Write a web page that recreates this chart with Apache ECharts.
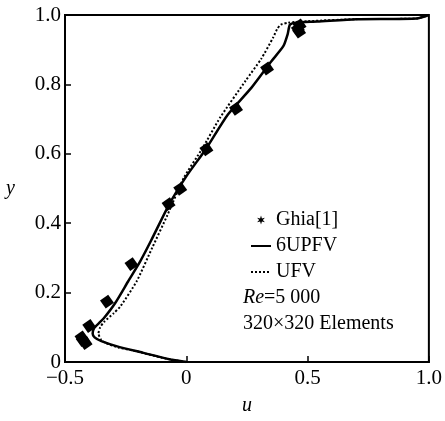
<!DOCTYPE html>
<html>
<head>
<meta charset="utf-8">
<title>u profile Re=5000</title>
<script src="https://cdn.jsdelivr.net/npm/echarts@6/dist/echarts.min.js"></script>
<style>
  html, body { margin: 0; padding: 0; background: #fff; }
  #chart { width: 445px; height: 421px; }
</style>
</head>
<body>
<div id="chart"></div>
<script>
// Ghia[1] reference points (u, y)
var ghiaU = [0.467, 0.460, 0.465, 0.333, 0.205, 0.083, -0.025, -0.073, -0.226, -0.327, -0.400, -0.432, -0.427, -0.415];
var ghiaY = [0.970, 0.960, 0.952, 0.846, 0.730, 0.613, 0.499, 0.455, 0.282, 0.174, 0.104, 0.071, 0.063, 0.055];

// 6UPFV (solid)
var upfvU = [0, -0.07, -0.18, -0.285, -0.35, -0.378, -0.386, -0.380, -0.360, -0.340, -0.293, -0.240, -0.190, -0.145, -0.070, 0.0, 0.081, 0.170, 0.268, 0.350, 0.400, 0.418, 0.427, 0.450, 0.540, 0.700, 0.950, 1.0];
var upfvY = [0, 0.008, 0.027, 0.045, 0.060, 0.071, 0.082, 0.098, 0.112, 0.126, 0.170, 0.232, 0.290, 0.350, 0.455, 0.535, 0.614, 0.712, 0.790, 0.866, 0.910, 0.945, 0.972, 0.978, 0.981, 0.988, 0.990, 1.0];

// UFV (dotted)
var ufvU = [0, -0.10, -0.20, -0.28, -0.33, -0.352, -0.362, -0.355, -0.340, -0.300, -0.272, -0.205, -0.140, -0.080, -0.010, 0.065, 0.140, 0.244, 0.309, 0.358, 0.375, 0.390, 0.420, 0.500, 0.700, 0.950, 1.0];
var ufvY = [0, 0.012, 0.030, 0.042, 0.054, 0.065, 0.082, 0.100, 0.115, 0.140, 0.160, 0.232, 0.330, 0.420, 0.531, 0.614, 0.705, 0.810, 0.874, 0.935, 0.960, 0.972, 0.978, 0.982, 0.988, 0.990, 1.0];

var xTicks = [-0.5, 0, 0.5, 1.0];
var yTicks = [0, 0.2, 0.4, 0.6, 0.8, 1.0];

function pairs(xs, ys) {
  var out = [];
  for (var i = 0; i < xs.length; i++) {
    out.push([xs[i], ys[i]]);
  }
  return out;
}

var FONT = "Liberation Serif";
// six-pointed asterisk for the legend
var ASTERISK = "path://M0,-6L1.25,-2.165L5.196,-3L2.5,0L5.196,3L1.25,2.165L0,6" +
  "L-1.25,2.165L-5.196,3L-2.5,0L-5.196,-3L-1.25,-2.165Z";

var myChart = echarts.init(document.getElementById("chart"));
var option = {
  backgroundColor: "#fff",
  animation: false,
  textStyle: { fontFamily: FONT, color: "#000" },
  grid: {
    left: 65,
    right: 12,
    top: 15,
    bottom: 48,
    show: true,
    borderColor: "#000",
    borderWidth: 2
  },
  xAxis: {
    type: "value",
    min: -0.5,
    max: 1.0,
    interval: 0.5,
    name: "u",
    nameLocation: "middle",
    nameGap: 34,
    nameTextStyle: { fontFamily: FONT, fontStyle: "italic", fontSize: 20, color: "#000" },
    splitLine: { show: false },
    axisLine: { onZero: false, lineStyle: { color: "#000", width: 2 } },
    axisTick: { inside: true, length: 6, lineStyle: { color: "#000", width: 1.5 } },
    axisLabel: {
      fontFamily: FONT,
      fontSize: 21,
      color: "#000",
      margin: 6,
      formatter: function(v) {
        if (xTicks.indexOf(v) === -1) return "";
        if (v === 0) return "0";
        return (v < 0 ? "\u2212" : "") + Math.abs(v).toFixed(1);
      }
    }
  },
  yAxis: {
    type: "value",
    min: 0,
    max: 1.0,
    interval: 0.2,
    name: "y",
    nameLocation: "middle",
    nameRotate: 0,
    nameGap: 50,
    nameTextStyle: { fontFamily: FONT, fontStyle: "italic", fontSize: 20, color: "#000", padding: [22, 0, 0, 0] },
    splitLine: { show: false },
    axisLine: { onZero: false, lineStyle: { color: "#000", width: 2 } },
    axisTick: { inside: true, length: 6, lineStyle: { color: "#000", width: 1.5 } },
    axisLabel: {
      fontFamily: FONT,
      fontSize: 21,
      color: "#000",
      margin: 4,
      formatter: function(v) {
        var r = Math.round(v * 10) / 10;
        if (yTicks.indexOf(r) === -1) return "";
        return r === 0 ? "0" : r.toFixed(1);
      }
    }
  },
  legend: {
    orient: "vertical",
    left: 245,
    top: 205,
    itemWidth: 20,
    itemHeight: 9,
    itemGap: 6,
    textStyle: { fontFamily: FONT, fontSize: 20, color: "#000" },
    data: [
      { name: "Ghia[1]", icon: ASTERISK, itemStyle: { color: "#000", opacity: 1 } },
      { name: "6UPFV", itemStyle: { opacity: 0 } },
      { name: "UFV", itemStyle: { opacity: 0 } }
    ]
  },
  graphic: [
    {
      type: "text",
      left: 243,
      top: 288,
      style: {
        text: "{i|Re}=5 000",
        font: "20px " + FONT,
        fill: "#000",
        rich: { i: { fontStyle: "italic", fontFamily: FONT, fontSize: 20 } }
      }
    },
    {
      type: "text",
      left: 243,
      top: 314,
      style: { text: "320\u00d7320 Elements", font: "20px " + FONT, fill: "#000" }
    }
  ],
  series: [
    {
      name: "Ghia[1]",
      type: "scatter",
      data: pairs(ghiaU, ghiaY),
      symbol: "rect",
      symbolSize: 10,
      symbolRotate: 35,
      itemStyle: { color: "#000", opacity: 1 },
      z: 5
    },
    {
      name: "6UPFV",
      type: "line",
      data: pairs(upfvU, upfvY),
      showSymbol: false,
      symbol: "none",
      smooth: 0.2,
      lineStyle: { color: "#000", width: 2.5 },
      itemStyle: { color: "#000" }
    },
    {
      name: "UFV",
      type: "line",
      data: pairs(ufvU, ufvY),
      showSymbol: false,
      symbol: "none",
      smooth: 0.2,
      lineStyle: { color: "#000", width: 2, type: [2, 2] },
      itemStyle: { color: "#000" }
    }
  ]
};
myChart.setOption(option);
</script>
</body>
</html>
